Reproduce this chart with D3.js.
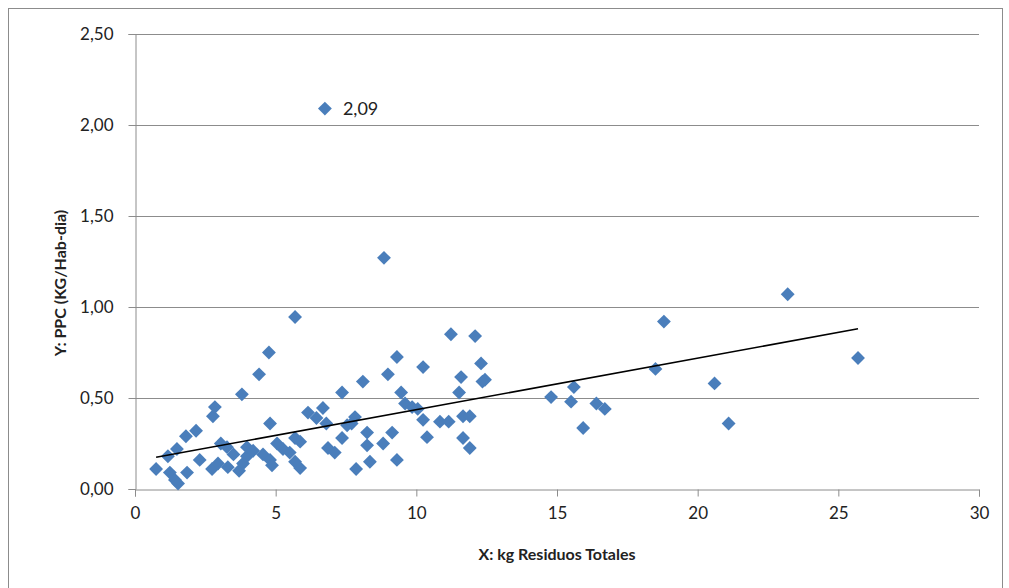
<!DOCTYPE html>
<html>
<head>
<meta charset="utf-8">
<script src="https://cdn.jsdelivr.net/npm/d3@7"></script>
<style>
  body { margin: 0; background: #fff; }
  svg { display: block; font-family: Lato, "Open Sans", sans-serif; }
</style>
</head>
<body>
<svg id="chart" width="1009" height="588"></svg>
<script>
// kg Residuos Totales (X) y PPC (Y)
const xValues = [
  0.75, 1.17, 1.24, 1.42, 1.53, 1.49, 1.85, 1.81, 2.17, 2.3,
  2.77, 2.84, 2.74, 2.95, 3.05, 3.3, 3.27, 3.5, 3.7, 3.8,
  3.84, 3.98, 3.98, 4.2, 4.41, 4.55, 4.76, 4.8, 4.8, 4.87,
  5.05, 5.26, 5.5, 5.69, 5.87, 5.69, 5.87, 5.69, 6.15, 6.45,
  6.68, 6.8, 6.86, 7.1, 7.36, 7.36, 7.54, 7.82, 7.7, 7.86,
  8.1, 8.25, 8.25, 8.35, 8.82, 8.85, 8.99, 9.14, 9.31, 9.31,
  9.46, 9.6, 9.85, 10.05, 10.24, 10.24, 10.38, 10.84, 11.15, 11.23,
  11.52, 11.59, 11.66, 11.9, 11.66, 11.9, 12.09, 12.3, 12.44, 12.35,
  14.79, 15.5, 15.6, 15.93, 16.4, 16.7, 18.5, 18.8, 20.6, 21.1,
  23.2, 25.7, 6.75
]
const yValues = [
  0.11, 0.18, 0.09, 0.05, 0.03, 0.22, 0.09, 0.29, 0.32, 0.16,
  0.40, 0.45, 0.11, 0.14, 0.25, 0.12, 0.23, 0.19, 0.10, 0.52,
  0.14, 0.18, 0.23, 0.21, 0.63, 0.19, 0.75, 0.36, 0.16, 0.13,
  0.25, 0.22, 0.20, 0.28, 0.26, 0.15, 0.115, 0.945, 0.42, 0.39,
  0.445, 0.36, 0.225, 0.20, 0.28, 0.53, 0.35, 0.395, 0.36, 0.11,
  0.59, 0.31, 0.24, 0.15, 0.25, 1.27, 0.63, 0.31, 0.725, 0.16,
  0.53, 0.47, 0.45, 0.44, 0.67, 0.38, 0.285, 0.37, 0.37, 0.85,
  0.53, 0.615, 0.40, 0.40, 0.28, 0.225, 0.84, 0.69, 0.60, 0.59,
  0.505, 0.48, 0.56, 0.335, 0.47, 0.44, 0.66, 0.92, 0.58, 0.36,
  1.07, 0.72, 2.09
]
const xTicks = [0, 5, 10, 15, 20, 25, 30]
const yTicks = [0, 0.5, 1, 1.5, 2, 2.5]
const labelledValue = 2.09
// línea de tendencia lineal
const trendSlope = 0.0283
const trendIntercept = 0.153

const points = xValues.map((x, i) => ({ x, y: yValues[i] }))
const fmt = d => d3.format(".2f")(d).replace(".", ",")

const svg = d3.select("#chart")
const margin = { left: 135, right: 30, top: 34, bottom: 99 }
const width = 1009, height = 588

// marco exterior
svg.append("rect")
  .attr("x", 8.5).attr("y", 8.5)
  .attr("width", 994).attr("height", 590)
  .attr("fill", "none").attr("stroke", "#8c8c8c")

const x = d3.scaleLinear().domain([0, 30]).range([margin.left, width - margin.right])
const y = d3.scaleLinear().domain([0, 2.5]).range([height - margin.bottom, margin.top])

// rejilla
svg.append("g")
  .selectAll("line")
  .data(yTicks.slice(1))
  .enter().append("line")
    .attr("x1", x(0)).attr("x2", x(30))
    .attr("y1", d => Math.round(y(d)) + 0.5).attr("y2", d => Math.round(y(d)) + 0.5)
    .attr("stroke", "#8c8c8c")

const yAxis = svg.append("g")
  .attr("transform", "translate(" + (x(0) + 0.5) + ",0)")
  .call(d3.axisLeft(y).tickValues(yTicks).tickFormat(fmt).tickSize(7).tickPadding(15))
const xAxis = svg.append("g")
  .attr("transform", "translate(0," + (Math.round(y(0)) + 0.5) + ")")
  .call(d3.axisBottom(x).tickValues(xTicks).tickSize(7).tickPadding(10))

;[xAxis, yAxis].forEach(a => {
  a.select(".domain").attr("stroke", "#8c8c8c")
  a.selectAll(".tick line").attr("stroke", "#8c8c8c")
  a.selectAll("text").attr("fill", "#222").style("font-size", "17px").style("font-family", "Lato, sans-serif")
})

// puntos
svg.append("g")
  .selectAll("path")
  .data(points)
  .enter().append("path")
    .attr("d", d3.symbol().type(d3.symbolSquare).size(96))
    .attr("transform", d => "translate(" + x(d.x) + "," + y(d.y) + ") rotate(45)")
    .attr("fill", "#4a7ebb")

// tendencia
const xExt = d3.extent(xValues)
svg.append("line")
  .attr("x1", x(xExt[0])).attr("y1", y(trendIntercept + trendSlope * xExt[0]))
  .attr("x2", x(xExt[1])).attr("y2", y(trendIntercept + trendSlope * xExt[1]))
  .attr("stroke", "#000").attr("stroke-width", 1.5)

// etiqueta del punto atípico
const outlier = points.find(p => p.y === labelledValue)
svg.append("text")
  .attr("x", x(outlier.x) + 18).attr("y", y(outlier.y) + 6)
  .style("font-size", "18px").attr("fill", "#222")
  .text(fmt(labelledValue))

// títulos
svg.append("text")
  .attr("x", (x(0) + x(30)) / 2).attr("y", 560)
  .attr("text-anchor", "middle")
  .style("font-size", "16px").style("font-weight", "bold").attr("fill", "#222")
  .text("X: kg Residuos Totales")
svg.append("text")
  .attr("transform", "translate(66," + 283 + ") rotate(-90)")
  .attr("text-anchor", "middle")
  .style("font-size", "16px").style("font-weight", "bold").attr("fill", "#222")
  .text("Y: PPC (KG/Hab-dia)")
</script>
</body>
</html>
